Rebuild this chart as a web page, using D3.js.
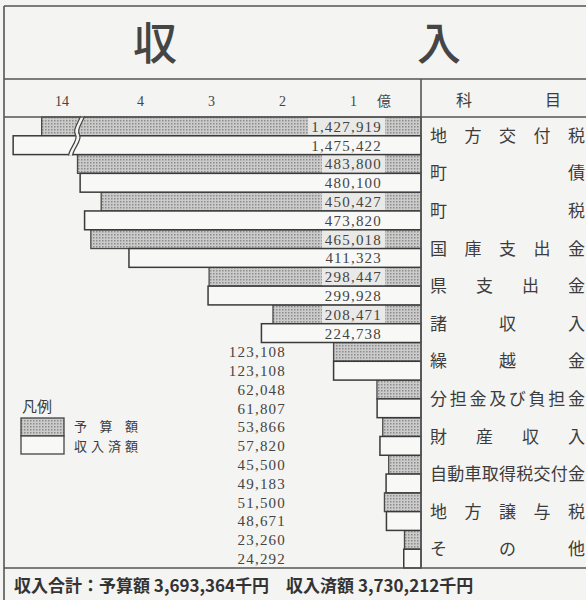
<!DOCTYPE html>
<html>
<head>
<meta charset="utf-8">
<script src="https://cdn.jsdelivr.net/npm/d3@7"></script>
<style>
  html, body { margin: 0; padding: 0; background: #f4f4f2; }
  svg { display: block; }
</style>
</head>
<body>
<svg id="chart" width="586" height="600"></svg>
<script>
const categories = ['地方交付税', '町債', '町税', '国庫支出金', '県支出金', '諸収入', '繰越金',
    '分担金及び負担金', '財産収入', '自動車取得税交付金', '地方譲与税', 'その他'];

// 千円
const budget = [1427919, 483800, 450427, 465018, 298447, 208471, 123108, 62048, 53866, 45500, 51500, 23260];
const received = [1475422, 480100, 473820, 411323, 299928, 224738, 123108, 61807, 57820, 49183, 48671, 24292];

const tickValues = [100000, 200000, 300000, 400000, 1400000];
const seriesNames = ['予算額', '収入済額'];

const width = 586,
    height = 600,
    frameLeft = 4,
    divider = 421,
    titleTop = 6,
    headerTop = 79,
    plotTop = 117,
    plotBottom = 568,
    ink = '#3c3c3c',
    lineColor = '#555',
    cjk = '"Noto Sans CJK JP", "Noto Sans", sans-serif',
    serif = '"Liberation Serif", "DejaVu Serif", serif';

const svg = d3.select('#chart');

const defs = svg.append('defs');
const pattern = defs.append('pattern')
    .attr('id', 'dots')
    .attr('width', 3)
    .attr('height', 3)
    .attr('patternUnits', 'userSpaceOnUse');
pattern.append('rect').attr('width', 3).attr('height', 3).attr('fill', '#cbcbcb');
pattern.append('rect').attr('width', 1.5).attr('height', 1.5).attr('fill', '#8c8c8c');

// broken axis: 0 .. 4.85億, then 13.7億 .. 15億
const breakLo = 485000,
    breakHi = 1369600,
    pxPerOku = 71,
    pxPerOkuFar = 60,
    xBreak = divider - breakLo / 1e5 * pxPerOku;

const xScale = d3.scaleLinear()
    .domain([0, breakLo, breakHi, 1500000])
    .range([divider, xBreak, xBreak, xBreak - (1500000 - breakHi) / 1e5 * pxPerOkuFar]);

const yScale = d3.scaleBand()
    .domain(categories)
    .range([plotTop, plotBottom])
    .padding(0);

const half = yScale.bandwidth() / 2;

const rows = categories.map((name, i) => ({ name, budget: budget[i], received: received[i] }));

// title
svg.append('g')
    .selectAll('text')
    .data(['収', '入'])
    .join('text')
    .attr('x', (d, i) => i === 0 ? 155 : 439)
    .attr('y', 60)
    .attr('text-anchor', 'middle')
    .attr('font-family', cjk)
    .attr('font-size', 44)
    .attr('font-weight', 500)
    .attr('fill', '#454545')
    .text(d => d);

// bars
const barGroup = svg.append('g');

barGroup.selectAll('rect.budget')
    .data(rows)
    .join('rect')
    .attr('class', 'budget')
    .attr('x', d => xScale(d.budget))
    .attr('y', d => yScale(d.name))
    .attr('width', d => divider - xScale(d.budget))
    .attr('height', half)
    .attr('fill', 'url(#dots)')
    .attr('stroke', '#4a4a4a')
    .attr('stroke-width', 1.3);

barGroup.selectAll('rect.received')
    .data(rows)
    .join('rect')
    .attr('class', 'received')
    .attr('x', d => xScale(d.received))
    .attr('y', d => yScale(d.name) + half)
    .attr('width', d => divider - xScale(d.received))
    .attr('height', half)
    .attr('fill', '#f8f8f6')
    .attr('stroke', '#3a3a3a')
    .attr('stroke-width', 1.5);

// break mark across the first row
const firstRow = yScale(categories[0]);
const wave = (dx) => {
    const y0 = firstRow - 1, y1 = firstRow + 2 * half + 1;
    const x = xBreak + dx;
    return `M${x + 6},${y0} C${x + 2},${y0 + 10} ${x - 2},${y0 + 14} ${x + 1},${y0 + 19} ` +
        `S${x - 6},${y1 - 6} ${x - 6},${y1}`;
};
svg.append('path')
    .attr('d', `${wave(-2)} L${xBreak - 4},${firstRow + 2 * half + 1} ` +
        `C${xBreak - 4},${firstRow + 2 * half - 5} ${xBreak + 2},${firstRow + 20} ${xBreak + 3},${firstRow + 18} ` +
        `C${xBreak},${firstRow + 13} ${xBreak + 4},${firstRow + 9} ${xBreak + 8},${firstRow - 1} Z`)
    .attr('fill', '#f4f4f2')
    .attr('stroke', 'none');
[-2, 2].forEach(dx => svg.append('path')
    .attr('d', wave(dx))
    .attr('fill', 'none')
    .attr('stroke', '#444')
    .attr('stroke-width', 1.2));

// value labels
const labelGroup = svg.append('g')
    .attr('font-family', serif)
    .attr('font-size', 15)
    .attr('letter-spacing', 1.2)
    .attr('fill', '#444');

const fmt = d3.format(',');
const inside = v => v >= 200000;

rows.forEach(d => {
    [['budget', 0], ['received', half]].forEach(([key, offset]) => {
        const value = d[key];
        const yMid = yScale(d.name) + offset + half / 2;
        const xEnd = inside(value) ? divider - 39 : 286;
        const text = labelGroup.append('text')
            .attr('x', xEnd)
            .attr('y', yMid)
            .attr('dy', '0.36em')
            .attr('text-anchor', 'end')
            .text(fmt(value));
        if (inside(value) && key === 'budget') {
            const w = text.node().getComputedTextLength();
            labelGroup.insert('rect', 'text')
                .attr('x', xEnd - w - 3)
                .attr('y', yScale(d.name) + 1)
                .attr('width', w + 6)
                .attr('height', half - 2)
                .attr('fill', '#e9e9e8');
        }
    });
});

// axis along the header row
const axis = d3.axisTop(xScale)
    .tickValues(tickValues)
    .tickSize(0)
    .tickPadding(0)
    .tickFormat(d => d / 1e5);

const axisG = svg.append('g')
    .attr('transform', 'translate(0,106)')
    .call(axis);
axisG.select('.domain').remove();
axisG.selectAll('text')
    .attr('dx', 3)
    .attr('font-family', serif)
    .attr('font-size', 14)
    .attr('fill', '#444');

svg.append('text')
    .attr('x', xScale(0) - 37)
    .attr('y', 106)
    .attr('text-anchor', 'middle')
    .attr('font-family', cjk)
    .attr('font-size', 14)
    .attr('fill', '#444')
    .text('億');

// category column, characters spread across the cell
const spread = (g, label, x0, x1, y, size) => {
    const chars = Array.from(label);
    const step = chars.length > 1 ? (x1 - x0 - size) / (chars.length - 1) : 0;
    g.selectAll(null)
        .data(chars)
        .join('text')
        .attr('x', (c, i) => x0 + size / 2 + i * step)
        .attr('y', y)
        .attr('dy', '0.36em')
        .attr('text-anchor', 'middle')
        .text(c => c);
};

const catGroup = svg.append('g')
    .attr('font-family', cjk)
    .attr('font-size', 17)
    .attr('fill', ink);

categories.forEach(name => spread(catGroup, name, 430, 585, yScale(name) + half, 17));

const headGroup = svg.append('g')
    .attr('font-family', cjk)
    .attr('font-size', 16)
    .attr('fill', ink);
spread(headGroup, '科目', 456, 561, 100, 16);

// legend
const legend = svg.append('g');
legend.append('text')
    .attr('x', 22)
    .attr('y', 412)
    .attr('font-family', cjk)
    .attr('font-size', 15)
    .attr('fill', ink)
    .text('凡例');

legend.selectAll('rect')
    .data(seriesNames)
    .join('rect')
    .attr('x', 21)
    .attr('y', (d, i) => 418 + i * 18)
    .attr('width', 43)
    .attr('height', 18)
    .attr('fill', (d, i) => i === 0 ? 'url(#dots)' : '#f8f8f6')
    .attr('stroke', '#444')
    .attr('stroke-width', 1.3);

const legendText = legend.append('g')
    .attr('font-family', cjk)
    .attr('font-size', 13)
    .attr('fill', ink);
seriesNames.forEach((name, i) => spread(legendText, name, 74, 138, 426 + i * 20, 13));

// frame lines
const lines = [
    [frameLeft, titleTop, width, titleTop],
    [frameLeft, headerTop, width, headerTop],
    [frameLeft, plotTop, width, plotTop],
    [frameLeft, plotBottom, width, plotBottom],
    [frameLeft, titleTop, frameLeft, height],
    [divider, headerTop, divider, plotBottom]
];
svg.append('g')
    .selectAll('line')
    .data(lines)
    .join('line')
    .attr('x1', d => d[0])
    .attr('y1', d => d[1])
    .attr('x2', d => d[2])
    .attr('y2', d => d[3])
    .attr('stroke', lineColor)
    .attr('stroke-width', 1.6);

// totals
svg.append('text')
    .attr('x', 14)
    .attr('y', 592)
    .attr('font-family', cjk)
    .attr('font-size', 17)
    .attr('font-weight', 700)
    .attr('fill', '#333')
    .attr('xml:space', 'preserve')
    .text(`収入合計：${seriesNames[0]} ${fmt(d3.sum(budget))}千円　${seriesNames[1]} ${fmt(d3.sum(received))}千円`);
</script>
</body>
</html>
